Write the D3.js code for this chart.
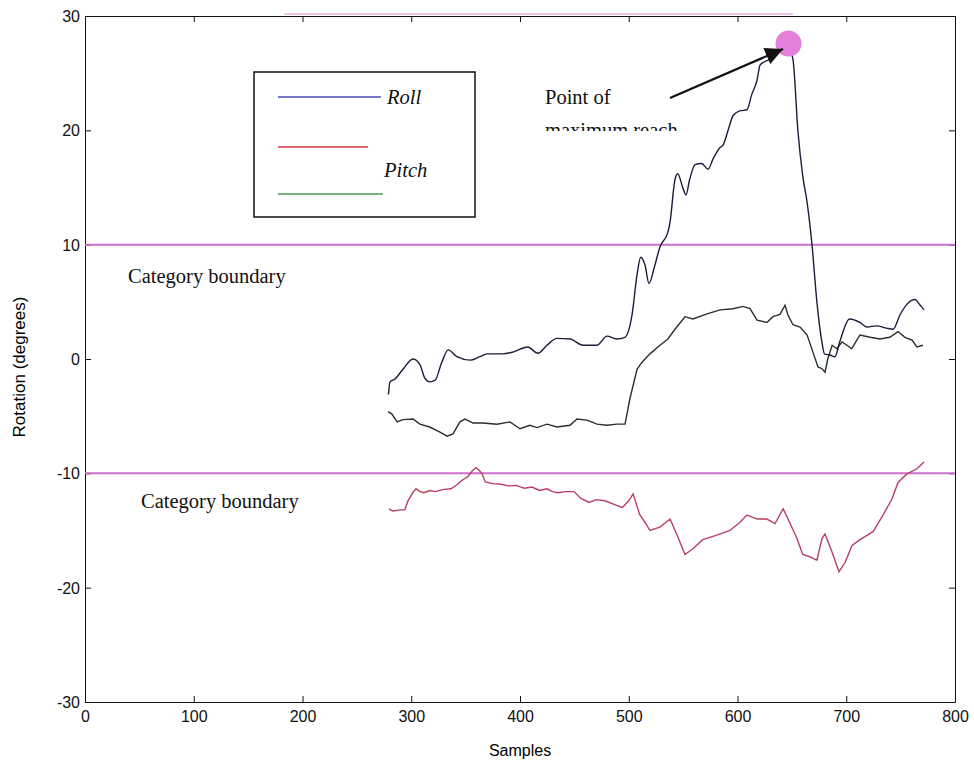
<!DOCTYPE html>
<html>
<head>
<meta charset="utf-8">
<script src="https://cdn.jsdelivr.net/npm/d3@7"></script>
<style>
  html, body { margin: 0; padding: 0; background: #fff; }
  svg { display: block; }
  .tick text { font-family: "Liberation Sans", Arial, sans-serif; font-size: 16px; fill: #111; }
  .serif { font-family: "Liberation Serif", "Times New Roman", serif; fill: #111; font-size: 20.5px; }
</style>
</head>
<body>
<svg id="chart" width="974" height="765"></svg>
<script>
// Roll trace: [sample, degrees]
const rollData = [
  [279, -3.1], [280.5, -2.0], [285, -1.75], [292.4, -0.9], [301.6, 0], [308, -0.5],
  [312.6, -1.7], [317, -2.0], [322, -1.85], [328, -0.3], [334, 0.8], [342, 0.2],
  [354, -0.1], [363, 0.2], [369.6, 0.45], [384, 0.45], [393.5, 0.6], [407, 1.05],
  [416.5, 0.5], [424.8, 1.2], [434, 1.8], [446, 1.75], [458, 1.2], [470.8, 1.2],
  [480, 2.0], [489, 1.75], [496.5, 1.9], [503, 3.85], [507.6, 7.35], [511, 8.9],
  [515, 8.2], [518.6, 6.6], [524, 8.2], [528.7, 9.8], [536, 11.1], [538, 12.0],
  [542.5, 15.7], [545, 16.2], [550, 14.9], [552.6, 14.35], [556, 15.7], [561, 17.0],
  [567, 17.1], [573, 16.6], [577.5, 17.5], [584, 18.5], [586.7, 18.7], [591, 19.9],
  [596, 21.3], [602, 21.7], [608.7, 21.8], [613, 23.1], [618, 24.4], [620.7, 25.7],
  [625, 26.0], [632, 26.3], [638, 26.8], [646, 27.5], [651, 26.2], [655.6, 19.9],
  [660, 16.0], [664, 13.7], [668.5, 10.0], [673, 5.0], [677.6, 1.5], [680, 0.45],
  [685, 0.35], [689.6, 0.2], [694, 1.5], [703, 3.5], [712.6, 3.2], [719, 2.8],
  [728, 2.9], [737, 2.7], [743, 2.6], [749.4, 3.85], [755.9, 4.8], [763, 5.2],
  [768, 4.7], [771.5, 4.3]
];

// Pitch trace: [sample, degrees]
const pitchData = [
  [279.5, -13.1], [283, -13.3], [290, -13.2], [294, -13.2], [297, -12.4], [302, -11.6],
  [304.4, -11.35], [308, -11.6], [311.7, -11.7], [317, -11.5], [322, -11.6], [330, -11.4],
  [336.6, -11.35], [342, -11.0], [346.7, -10.6], [352, -10.3], [356, -9.8], [359.5, -9.5],
  [362, -9.7], [365, -10.0], [368, -10.75], [375, -10.9], [382.5, -10.95], [390, -11.1],
  [396.3, -11.05], [404, -11.3], [411, -11.2], [418, -11.5], [424.8, -11.35], [430, -11.6],
  [435, -11.7], [442, -11.6], [449.7, -11.6], [456, -12.2], [463.4, -12.55], [470, -12.3],
  [478, -12.4], [486, -12.7], [494, -13.0], [500, -12.4], [504, -11.8], [508, -13.0],
  [510, -13.6], [515, -14.3], [519.5, -15.0], [528.7, -14.7], [538, -14.0], [544.4, -15.4],
  [551.7, -17.1], [559, -16.6], [568, -15.8], [581, -15.4], [593, -15.0], [602, -14.3],
  [608.7, -13.65], [618, -14.0], [627, -14.0], [634.5, -14.4], [642, -13.1], [648, -14.3],
  [654.7, -15.7], [660, -17.1], [666.7, -17.3], [673, -17.6], [677.7, -15.7], [680.5, -15.3],
  [687, -16.9], [693.3, -18.6], [698.9, -17.8], [705.3, -16.3], [712.6, -15.8], [724.6, -15.1],
  [733.8, -13.65], [742, -12.25], [747.6, -10.8], [755.9, -10.05], [765, -9.6], [771.5, -9.0]
];

// Third (green) trace: [sample, degrees]
const greenData = [
  [278.6, -4.6], [282, -4.8], [287, -5.5], [292.4, -5.3], [301.6, -5.25], [308, -5.7],
  [317, -5.95], [326.4, -6.4], [333, -6.75], [338.4, -6.55], [344.8, -5.5], [349.4, -5.25],
  [356.8, -5.6], [366, -5.6], [378.8, -5.7], [390.8, -5.5], [400, -6.1], [409, -5.8],
  [415.6, -6.0], [424.8, -5.7], [434, -5.95], [446, -5.8], [452.4, -5.25], [461.6, -5.35],
  [470.8, -5.7], [480, -5.8], [489, -5.7], [496.6, -5.7], [501, -3.5], [507.6, -0.9],
  [512, -0.3], [519.5, 0.45], [528.7, 1.2], [536, 1.75], [542.5, 2.6], [551.7, 3.7],
  [559, 3.5], [572, 3.95], [584, 4.3], [596, 4.4], [605, 4.6], [611.5, 4.4],
  [618, 3.4], [627, 3.2], [632.6, 3.7], [639, 3.9], [643.7, 4.7], [646.4, 3.85],
  [651, 3.0], [657.5, 2.8], [664, 2.1], [669.4, 0.6], [674, -0.7], [677.7, -0.85],
  [680.5, -1.15], [683, 0], [687, 1.2], [691.5, 0.9], [696, 1.5], [700.7, 1.2],
  [705, 0.9], [712.6, 2.1], [722, 1.9], [731, 1.75], [740, 1.9], [747.6, 2.4],
  [754, 1.9], [760.5, 1.65], [765, 1.05], [770.6, 1.2]
];

const xTicks = [0, 100, 200, 300, 400, 500, 600, 700, 800];
const yTicks = [-30, -20, -10, 0, 10, 20, 30];
const boundaries = [10, -10];
const maxReach = [646, 27.5];

const svg = d3.select("#chart");
const x = d3.scaleLinear().domain([0, 800]).range([85, 955]);
const y = d3.scaleLinear().domain([-30, 30]).range([702, 16]);
const plain = d => String(d);

// Axes box
svg.append("g").attr("transform", `translate(0,${y(-30)})`)
  .call(d3.axisBottom(x).tickValues(xTicks).tickFormat(plain).tickSizeInner(-6).tickSizeOuter(0).tickPadding(9))
  .call(g => g.select(".domain").attr("stroke", "#111"))
  .call(g => g.selectAll(".tick line").attr("stroke", "#111"));
svg.append("g").attr("transform", `translate(${x(0)},0)`)
  .call(d3.axisLeft(y).tickValues(yTicks).tickFormat(plain).tickSizeInner(-6).tickSizeOuter(0).tickPadding(5))
  .call(g => g.select(".domain").attr("stroke", "#111"))
  .call(g => g.selectAll(".tick line").attr("stroke", "#111"))
  .call(g => g.selectAll(".tick text").attr("dy", "0.35em"));
svg.append("g").attr("transform", `translate(0,${y(30)})`)
  .call(d3.axisTop(x).tickValues(xTicks).tickSizeInner(-6).tickSizeOuter(0).tickFormat(""))
  .call(g => g.select(".domain").attr("stroke", "#111"))
  .call(g => g.selectAll(".tick line").attr("stroke", "#111"));
svg.append("g").attr("transform", `translate(${x(800)},0)`)
  .call(d3.axisRight(y).tickValues(yTicks).tickSizeInner(-6).tickSizeOuter(0).tickFormat(""))
  .call(g => g.select(".domain").attr("stroke", "#111"))
  .call(g => g.selectAll(".tick line").attr("stroke", "#111"));

// faint rule along the top edge
svg.append("line")
  .attr("x1", x(183)).attr("x2", x(651))
  .attr("y1", y(30) - 2).attr("y2", y(30) - 2)
  .attr("stroke", "#e4b6e4").attr("stroke-width", 1.5);

// Axis titles
svg.append("text")
  .attr("x", 520).attr("y", 756).attr("text-anchor", "middle")
  .style("font-family", "'Liberation Sans', Arial, sans-serif").style("font-size", "16px")
  .text("Samples");
svg.append("text")
  .attr("transform", "translate(25,367) rotate(-90)").attr("text-anchor", "middle")
  .style("font-family", "'Liberation Sans', Arial, sans-serif").style("font-size", "17px")
  .text("Rotation (degrees)");

// Category boundaries
svg.selectAll("line.boundary").data(boundaries).join("line")
  .attr("class", "boundary")
  .attr("x1", x(0)).attr("x2", x(800))
  .attr("y1", d => y(d)).attr("y2", d => y(d))
  .attr("stroke", "#cc6fcc").attr("stroke-width", 2);

svg.append("text").attr("class", "serif").attr("x", 128).attr("y", 283).text("Category boundary");
svg.append("text").attr("class", "serif").attr("x", 141).attr("y", 508).text("Category boundary");

// Traces
const line = d3.line().x(d => x(d[0])).y(d => y(d[1]));
svg.append("path").attr("d", line.curve(d3.curveLinear)(pitchData))
  .attr("fill", "none").attr("stroke", "#b8405e").attr("stroke-width", 1.4);
svg.append("path").attr("d", line.curve(d3.curveLinear)(greenData))
  .attr("fill", "none").attr("stroke", "#263326").attr("stroke-width", 1.4);
svg.append("path").attr("d", line.curve(d3.curveMonotoneX)(rollData))
  .attr("fill", "none").attr("stroke", "#1c1c3a").attr("stroke-width", 1.4);

// Point of maximum reach
svg.append("circle")
  .attr("cx", x(maxReach[0]) + 1).attr("cy", y(maxReach[1]) - 1).attr("r", 13)
  .attr("fill", "#e37fd9");

svg.append("defs").append("marker")
  .attr("id", "arrow").attr("viewBox", "0 0 10 10").attr("refX", 10).attr("refY", 5)
  .attr("markerWidth", 9).attr("markerHeight", 8).attr("markerUnits", "strokeWidth")
  .attr("orient", "auto")
  .append("path").attr("d", "M0,0 L10,5 L0,10 Z").attr("fill", "#111");
svg.append("line")
  .attr("x1", 670).attr("y1", 98).attr("x2", 783).attr("y2", 49)
  .attr("stroke", "#111").attr("stroke-width", 2.2).attr("marker-end", "url(#arrow)");

svg.append("text").attr("class", "serif").attr("x", 545).attr("y", 104).text("Point of");
svg.append("clipPath").attr("id", "clipReach")
  .append("rect").attr("x", 540).attr("y", 118).attr("width", 150).attr("height", 13);
svg.append("text").attr("class", "serif").attr("x", 545).attr("y", 137)
  .attr("clip-path", "url(#clipReach)").text("maximum reach");

// Legend
const legend = svg.append("g");
legend.append("rect").attr("x", 254).attr("y", 72).attr("width", 221).attr("height", 145)
  .attr("fill", "#fff").attr("stroke", "#111").attr("stroke-width", 1.5);
const legendRows = [
  { color: "#4a4ab8", y: 97, x2: 381 },
  { color: "#d23a4a", y: 147, x2: 368 },
  { color: "#4f9a4f", y: 194, x2: 383 }
];
legend.selectAll("line.key").data(legendRows).join("line")
  .attr("class", "key")
  .attr("x1", 278).attr("x2", d => d.x2).attr("y1", d => d.y).attr("y2", d => d.y)
  .attr("stroke", d => d.color).attr("stroke-width", 1.6);
legend.append("text").attr("class", "serif").attr("x", 387).attr("y", 104)
  .style("font-style", "italic").text("Roll");
legend.append("text").attr("class", "serif").attr("x", 384).attr("y", 177)
  .style("font-style", "italic").text("Pitch");
</script>
</body>
</html>
